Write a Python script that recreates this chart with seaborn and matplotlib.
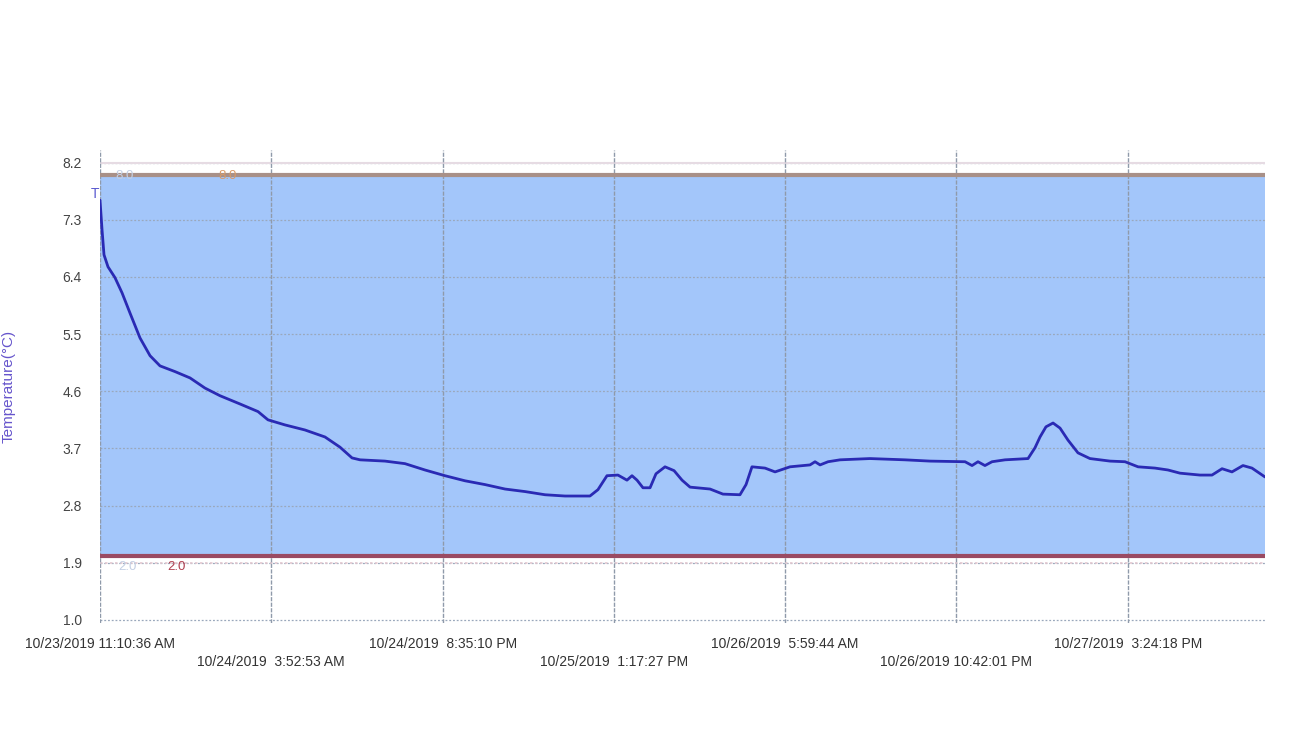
import matplotlib
matplotlib.use("Agg")
import matplotlib.pyplot as plt
import seaborn as sns
import pandas as pd

hours = [0.0, 0.2, 0.39, 0.78, 1.46, 2.15, 2.93, 3.90, 4.88, 5.85, 7.31, 8.78, 10.24, 11.70,
         13.65, 15.41, 16.38, 18.04, 19.99, 21.94, 23.40, 24.58, 25.36, 27.79, 29.74, 31.69,
         33.64, 35.59, 37.55, 39.50, 41.45, 43.40, 45.35, 47.78, 48.56, 49.44, 50.51, 51.39,
         51.88, 52.37, 52.95, 53.64, 54.22, 55.10, 55.98, 56.76, 57.54, 59.49, 60.75, 62.41,
         63.0, 63.58, 64.85, 65.83, 67.29, 69.24, 69.73, 70.22, 71.0, 72.17, 75.09, 78.50,
         80.94, 84.36, 85.04, 85.62, 86.30, 86.99, 88.26, 90.50, 91.18, 91.67, 92.25, 92.94,
         93.62, 94.40, 95.37, 96.54, 98.50, 99.96, 101.23, 102.88, 104.15, 105.32, 107.27,
         108.44, 109.42, 110.39, 111.46, 112.34, 113.61]
temps = [7.61, 7.14, 6.75, 6.56, 6.39, 6.15, 5.83, 5.44, 5.16, 5.00, 4.91, 4.81, 4.65, 4.53,
         4.40, 4.28, 4.15, 4.07, 3.99, 3.88, 3.72, 3.55, 3.52, 3.50, 3.46, 3.36,
         3.27, 3.19, 3.13, 3.06, 3.02, 2.97, 2.95, 2.95, 3.05, 3.27, 3.28, 3.20,
         3.27, 3.20, 3.08, 3.08, 3.30, 3.41, 3.35, 3.20, 3.09, 3.06, 2.98, 2.97,
         3.13, 3.41, 3.39, 3.33, 3.41, 3.44, 3.49, 3.44, 3.49, 3.52, 3.54, 3.52,
         3.50, 3.49, 3.43, 3.49, 3.43, 3.49, 3.52, 3.54, 3.71, 3.88, 4.04, 4.10,
         4.02, 3.83, 3.63, 3.54, 3.50, 3.49, 3.41, 3.39, 3.36, 3.31, 3.28,
         3.28, 3.38, 3.33, 3.43, 3.39, 3.25]

tick_hours = [0.0, 16.7047, 33.4094, 50.1142, 66.8189, 83.5236, 100.2283]
tick_labels = ["10/23/2019 11:10:36 AM", "10/24/2019  3:52:53 AM", "10/24/2019  8:35:10 PM",
               "10/25/2019  1:17:27 PM", "10/26/2019  5:59:44 AM", "10/26/2019 10:42:01 PM",
               "10/27/2019  3:24:18 PM"]
y_ticks = [1.0, 1.9, 2.8, 3.7, 4.6, 5.5, 6.4, 7.3, 8.2]
upper_limit = 8.0
lower_limit = 2.0

sns.set_theme(style="white")
plt.rcParams['font.family'] = ['Liberation Sans', 'DejaVu Sans']

fig = plt.figure(figsize=(13, 7.56), dpi=100)
ax = fig.add_axes([100/1300, 1 - 623/756, 1165/1300, (623-150)/756])

df = pd.DataFrame({"hours": hours, "temp": temps})

x0, x1 = 0.0, 113.61
ax.set_xlim(x0, x1)
ax.set_ylim(0.95, 8.4)

# blue band between limits
ax.axhspan(lower_limit, upper_limit, color="#a3c6fa", zorder=0)

# horizontal grid
for yt in y_ticks:
    ax.axhline(yt, color="#9aa8bc", lw=0.9, ls=(0, (1.5, 1.5)), zorder=1)
ax.axhline(8.2, color="#e6dbe3", lw=1.5, zorder=1)
ax.axhline(1.9, color="#e3c8d0", lw=1.2, ls=(0, (1.5, 1.5)), zorder=1)
# vertical grid
for xt in tick_hours:
    ax.axvline(xt, color="#8f9aaa", lw=1.0, ls=(0, (3, 1)), zorder=1)

# limit lines
ax.axhline(upper_limit, color="#a89088", lw=3, zorder=2)
ax.axhline(lower_limit, color="#9a4a62", lw=3, zorder=2)

sns.lineplot(data=df, x="hours", y="temp", ax=ax, color="#2a2ab4", lw=2.0, zorder=3)

ax.text(-0.5, 7.6, "T", color="#5a5ad0", fontsize=10, ha="center", va="bottom")
ax.text(1.5, 7.9, "8.0", color="#c3cfe4", fontsize=9.5, ha="left", va="bottom")
ax.text(11.5, 7.9, "8.0", color="#d89a68", fontsize=9.5, ha="left", va="bottom")
ax.text(1.8, 1.93, "2.0", color="#c3cfe4", fontsize=9.5, ha="left", va="top")
ax.text(6.6, 1.93, "2.0", color="#b04050", fontsize=9.5, ha="left", va="top")

ax.set_yticks(y_ticks)
ax.set_yticklabels([f"{v:.1f}" for v in y_ticks], color="#444444", fontsize=10)
ax.set_xticks(tick_hours)
ax.set_xticklabels([lab if i % 2 == 0 else "\n" + lab for i, lab in enumerate(tick_labels)],
                   color="#333333", fontsize=10, linespacing=1.35)
ax.tick_params(axis="x", length=0, pad=10)
ax.tick_params(axis="y", length=0, pad=20)
for lab in ax.get_yticklabels():
    lab.set_ha("center")

ax.set_xlabel("")
ax.set_ylabel("Temperature(°C)", color="#6655cc", fontsize=11, labelpad=34)
for s in ax.spines.values():
    s.set_visible(False)

fig.savefig("out.png", dpi=100, facecolor="white")
